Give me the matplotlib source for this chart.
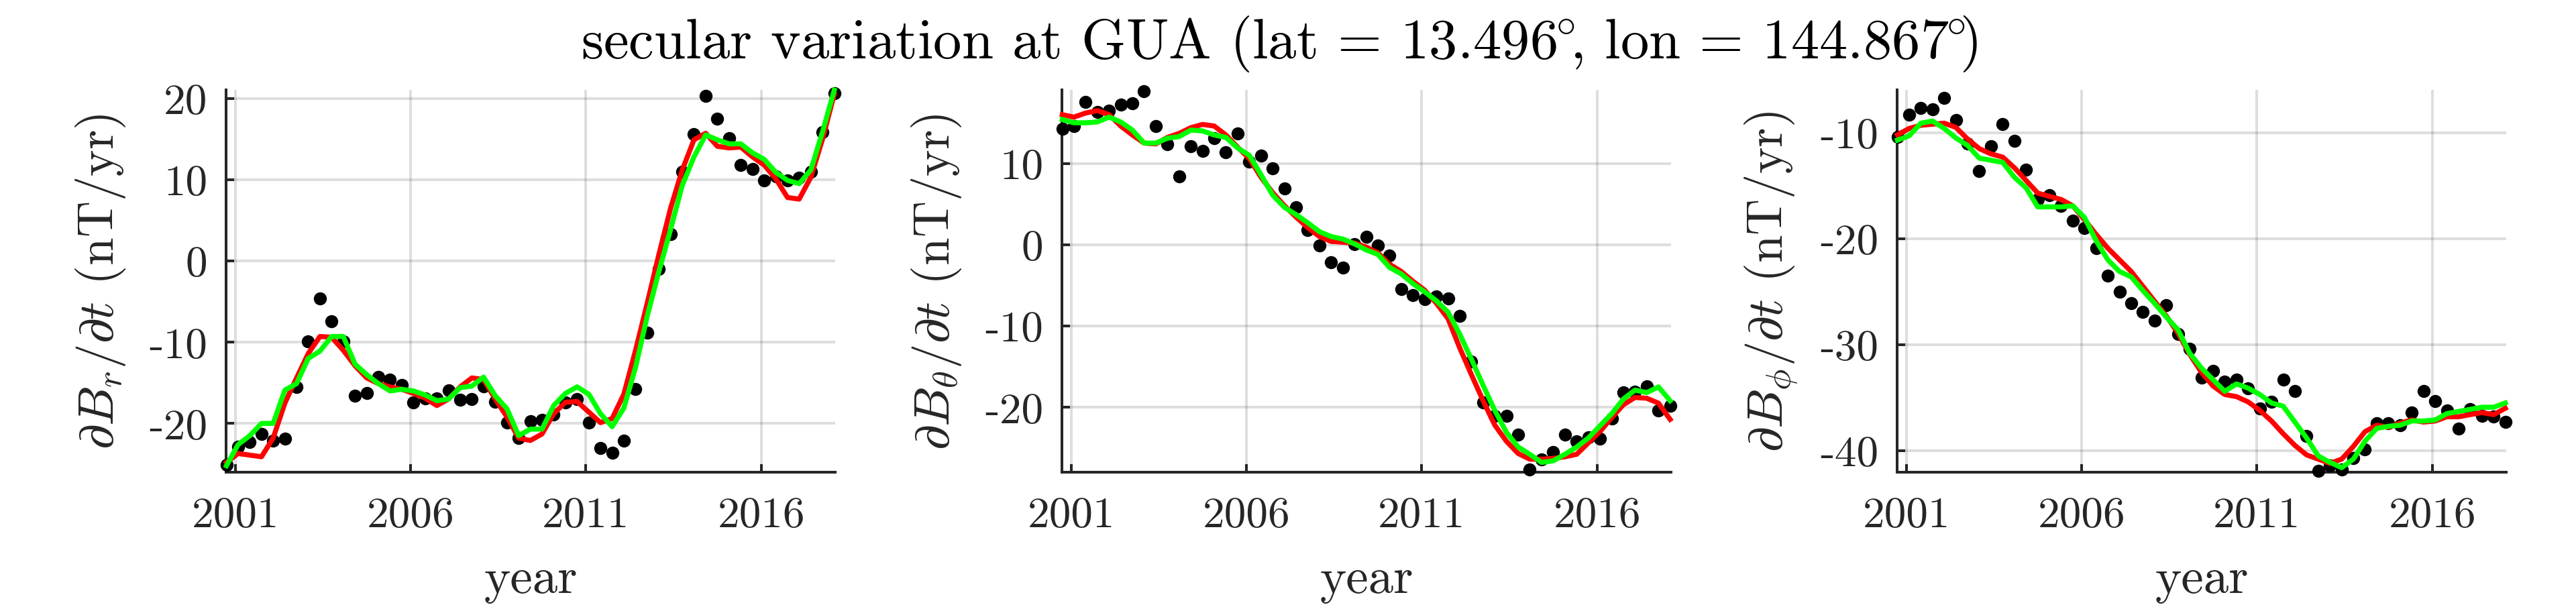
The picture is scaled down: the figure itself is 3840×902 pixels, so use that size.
import matplotlib
matplotlib.use('Agg')
import matplotlib.pyplot as plt

plt.rcParams.update({
    'font.family': 'serif', 'font.serif': ['cmr10'], 'mathtext.fontset': 'cm',
    'axes.unicode_minus': False, 'axes.formatter.use_mathtext': True,
})

years = [2000.750, 2001.083, 2001.417, 2001.750, 2002.083, 2002.417, 2002.750, 2003.083,
         2003.417, 2003.750, 2004.083, 2004.417, 2004.750, 2005.083, 2005.417, 2005.750,
         2006.083, 2006.417, 2006.750, 2007.083, 2007.417, 2007.750, 2008.083, 2008.417,
         2008.750, 2009.083, 2009.417, 2009.750, 2010.083, 2010.417, 2010.750, 2011.083,
         2011.417, 2011.750, 2012.083, 2012.417, 2012.750, 2013.083, 2013.417, 2013.750,
         2014.083, 2014.417, 2014.750, 2015.083, 2015.417, 2015.750, 2016.083, 2016.417,
         2016.750, 2017.083, 2017.417, 2017.750, 2018.083]

# dBr/dt
obs_r = [-25.1, -22.9, -22.3, -21.3, -22.1, -21.9, -15.5, -9.9, -4.6, -7.4, -9.9, -16.6, -16.3,
         -14.3, -14.6, -15.3, -17.4, -16.9, -16.9, -15.9, -17.1, -17.0, -15.4, -17.3, -19.9,
         -21.8, -19.7, -19.6, -18.9, -17.4, -17.0, -19.9, -23.0, -23.6, -22.1, -15.8, -8.8,
         -1.0, 3.3, 11.0, 15.6, 20.3, 17.5, 15.1, 11.8, 11.3, 9.9, 10.4, 9.9, 10.2, 11.0, 15.8, 20.6]
red_r = [-24.8, -23.7, -23.9, -24.1, -21.8, -17.5, -14.4, -11.4, -9.3, -9.4, -11.0, -12.9, -14.4,
         -15.1, -15.5, -15.8, -16.3, -16.9, -17.8, -17.0, -15.5, -14.4, -14.6, -17.0, -19.2,
         -21.8, -22.1, -21.3, -18.8, -17.4, -17.3, -18.6, -19.9, -19.4, -16.4, -11.0, -5.2,
         0.8, 6.5, 11.2, 14.9, 15.7, 14.1, 13.9, 14.0, 12.8, 11.8, 10.1, 7.8, 7.6, 10.3, 15.0, 20.5]
green_r = [-25.2, -22.6, -21.5, -20.0, -20.0, -15.9, -15.1, -12.0, -11.1, -9.3, -9.3, -12.7, -14.0,
           -15.1, -16.0, -15.8, -16.0, -16.5, -17.2, -17.0, -15.6, -15.4, -14.3, -16.6, -18.2,
           -21.5, -20.7, -20.7, -17.8, -16.3, -15.5, -16.4, -18.8, -20.4, -18.1, -13.1, -6.8,
           -1.3, 3.9, 9.3, 12.8, 15.5, 14.9, 14.4, 14.4, 13.3, 12.5, 10.9, 9.9, 9.5, 11.2, 15.9, 21.0]

# dBtheta/dt
obs_t = [14.3, 14.6, 17.6, 16.3, 16.5, 17.2, 17.4, 18.9, 14.6, 12.4, 8.4, 12.1, 11.5, 13.1, 11.4,
         13.7, 10.2, 11.0, 9.4, 6.9, 4.6, 1.8, -0.1, -2.2, -2.8, 0.1, 1.0, -0.1, -1.3, -5.5, -6.2,
         -6.7, -6.4, -6.6, -8.8, -14.4, -19.4, -21.1, -21.1, -23.4, -27.7, -26.4, -25.5, -23.4,
         -24.2, -23.7, -23.9, -21.4, -18.2, -18.1, -17.4, -20.4, -19.8]
red_t = [16.0, 15.7, 16.2, 16.5, 16.0, 14.6, 13.5, 12.5, 12.4, 13.2, 13.7, 14.4, 14.8, 14.6, 13.5,
         12.0, 10.6, 8.3, 6.4, 4.8, 3.4, 2.1, 1.0, 0.4, 0.3, 0.2, -0.3, -1.0, -2.4, -3.3, -4.5,
         -5.6, -7.2, -9.1, -12.7, -16.0, -19.2, -22.2, -24.2, -25.7, -26.4, -26.4, -26.3, -26.1,
         -25.8, -24.4, -23.0, -21.3, -19.7, -18.8, -18.9, -19.5, -21.5]
green_t = [15.4, 15.0, 15.0, 15.1, 15.7, 15.1, 14.1, 12.5, 12.5, 13.1, 13.3, 14.1, 14.0, 13.5, 13.2,
           11.9, 11.0, 8.6, 6.1, 4.6, 3.7, 2.7, 1.6, 1.0, 0.7, 0.1, -0.65, -1.2, -2.8, -3.6, -4.8,
           -5.8, -6.9, -8.3, -11.0, -14.1, -17.3, -20.4, -23.1, -24.9, -25.8, -26.8, -26.6, -25.8,
           -24.9, -23.8, -22.3, -20.8, -19.0, -17.9, -18.2, -17.5, -19.2]

# dBphi/dt
obs_p = [-10.4, -8.3, -7.7, -7.8, -6.7, -8.8, -11.0, -13.6, -11.3, -9.2, -10.8, -13.5, -16.3,
         -15.9, -16.9, -18.3, -19.0, -20.9, -23.5, -25.0, -26.1, -26.9, -27.7, -26.3, -29.0,
         -30.4, -33.1, -32.5, -33.5, -33.3, -34.1, -36.0, -35.4, -33.3, -34.4, -38.6, -41.9,
         -41.4, -41.8, -40.7, -39.9, -37.4, -37.4, -37.6, -36.4, -34.4, -35.3, -36.2, -37.9,
         -36.1, -36.7, -36.8, -37.3]
red_p = [-10.2, -9.6, -9.3, -9.2, -9.1, -9.5, -10.6, -11.5, -12.0, -12.3, -13.3, -14.5, -15.7,
         -16.0, -16.3, -16.9, -18.2, -19.6, -20.9, -22.0, -23.1, -24.5, -25.9, -27.3, -28.9,
         -30.9, -32.6, -33.9, -34.7, -34.9, -35.4, -36.2, -37.2, -38.4, -39.5, -40.4, -40.8,
         -41.2, -40.8, -39.6, -38.2, -37.6, -37.8, -37.4, -37.1, -37.3, -37.2, -36.8, -36.8,
         -36.6, -36.4, -36.6, -36.0]
green_p = [-10.7, -10.3, -9.1, -8.9, -9.6, -10.5, -11.2, -12.4, -12.6, -12.8, -14.2, -15.2, -17.0,
           -17.0, -17.0, -16.9, -18.0, -20.2, -22.0, -23.1, -23.6, -24.9, -26.1, -27.4, -28.6,
           -30.8, -32.2, -33.3, -34.4, -33.7, -34.1, -34.7, -35.5, -35.8, -37.3, -38.8, -40.5,
           -41.1, -41.6, -40.8, -39.1, -37.9, -37.7, -37.6, -37.2, -37.2, -37.1, -36.5, -36.3,
           -36.1, -35.9, -35.9, -35.5]

xticks = [2001, 2006, 2011, 2016]
xtick_labels = ['2001', '2006', '2011', '2016']
panels = [
    dict(obs=obs_r, red=red_r, green=green_r, ylim=(-26.0, 21.04), yticks=[-20, -10, 0, 10, 20],
         ylabel=r'$\partial B_r/\partial t$ (nT/yr)'),
    dict(obs=obs_t, red=red_t, green=green_t, ylim=(-28.0, 19.05), yticks=[-20, -10, 0, 10],
         ylabel=r'$\partial B_\theta/\partial t$ (nT/yr)'),
    dict(obs=obs_p, red=red_p, green=green_p, ylim=(-42.03, -5.96), yticks=[-40, -30, -20, -10],
         ylabel=r'$\partial B_\phi/\partial t$ (nT/yr)'),
]
title = (r'secular variation at GUA (lat = $13.496^{\!\!\circ}\!\!$, '
         r'lon = $144.867^{\!\!\circ}\!\!$)')

W, H = 3841, 903
fig = plt.figure(figsize=(W / 100, H / 100), dpi=100)
AX = '#262626'
lefts = [337, 1583, 2828]
aw, atop, abot = 908, 135, 705

for left, p in zip(lefts, panels):
    ax = fig.add_axes([left / W, (H - abot) / H, aw / W, (abot - atop) / H])
    ax.plot(years, p['obs'], 'o', color='k', ms=14, mec='k', mew=0, clip_on=False, zorder=3)
    ax.plot(years, p['red'], color='#ff0000', lw=5.4, clip_on=False, zorder=4)
    ax.plot(years, p['green'], color='#00ff00', lw=5.4, clip_on=False, zorder=5)
    ax.set_xlim(2000.74, 2018.11)
    ax.set_ylim(*p['ylim'])
    ax.set_xticks(xticks)
    ax.set_xticklabels(xtick_labels)
    ax.set_yticks(p['yticks'])
    ax.set_yticklabels([str(v) for v in p['yticks']])
    ax.grid(True, color=AX, alpha=0.15, lw=2.9)
    ax.set_axisbelow(True)
    for s in ['top', 'right']:
        ax.spines[s].set_visible(False)
    for s in ['left', 'bottom']:
        ax.spines[s].set_linewidth(2.9)
        ax.spines[s].set_color(AX)
    ax.tick_params(direction='in', length=8.6, width=2.9, colors=AX, labelsize=47)
    ax.tick_params(axis='x', pad=26)
    ax.tick_params(axis='y', pad=20)
    fig.text((left - 187) / W, (H - 420) / H, p['ylabel'], rotation=90, ha='center',
             va='center', fontsize=54, color=AX)
    fig.text((left + aw / 2) / W, (H - 884) / H, 'year', ha='center', va='baseline',
             fontsize=54, color=AX)

t = fig.text(1907 / W, (H - 87) / H, title, ha='center', va='baseline', fontsize=56, color='k')
r = fig.canvas.get_renderer()
wpx = t.get_window_extent(renderer=r).width
t.set_fontsize(56 * 2083 / wpx)
fig.savefig('out.png', dpi=100)
